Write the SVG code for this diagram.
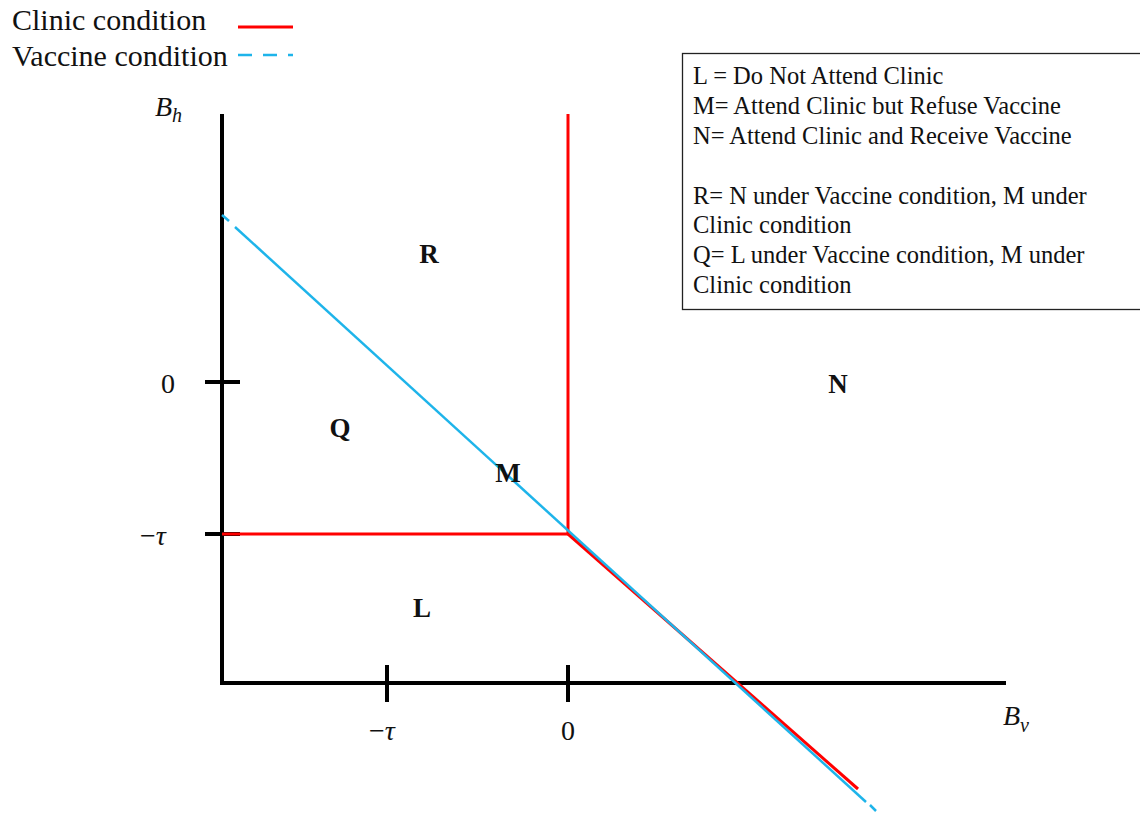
<svg xmlns="http://www.w3.org/2000/svg" width="1140" height="814" viewBox="0 0 1140 814">
<style>
text{font-family:"Liberation Serif","Times New Roman",serif;fill:#111}
.leg{font-size:30px}
.box{font-size:24.5px}
.reg{font-size:27px;font-weight:bold}
.tick{font-size:28px}
.math{font-size:28px;font-style:italic}
.axis{stroke:#000;stroke-width:4;fill:none}
.red{stroke:#ff0000;stroke-width:3;fill:none}
.blue{stroke:#1eb4ea;stroke-width:2.5;fill:none}
</style>
<rect width="1140" height="814" fill="#fff"/>
<g id="legend">
<text class="leg" x="12" y="30">Clinic condition</text>
<line class="red" x1="238" y1="27" x2="293" y2="27"/>
<text class="leg" x="12" y="66">Vaccine condition</text>
<line class="blue" x1="238" y1="55" x2="293" y2="55" stroke-dasharray="14 11"/>
</g>
<g id="axes">
<line class="axis" x1="222" y1="114" x2="222" y2="685"/>
<line class="axis" x1="220" y1="683" x2="1006" y2="683"/>
<line class="axis" x1="205" y1="382" x2="240" y2="382"/>
<line class="axis" x1="205" y1="534" x2="240" y2="534"/>
<line class="axis" x1="387" y1="665" x2="387" y2="702"/>
<line class="axis" x1="568" y1="665" x2="568" y2="702"/>
<text class="math" x="155" y="116">B<tspan font-size="20" dy="6">h</tspan></text>
<text class="math" x="1003" y="725">B<tspan font-size="20" dy="7">v</tspan></text>
<text class="tick" x="161" y="393">0</text>
<text class="tick" x="140" y="545">−<tspan font-style="italic">τ</tspan></text>
<text class="tick" x="369" y="740">−<tspan font-style="italic">τ</tspan></text>
<text class="tick" x="561" y="740">0</text>
</g>
<g id="connectors">
<polyline class="red" points="568,114 568,534 222,534"/>
<line class="red" x1="568" y1="534" x2="858" y2="789"/>
<line class="blue" x1="222" y1="215" x2="229" y2="221"/>
<line class="blue" x1="235" y1="227" x2="866" y2="802"/>
<line class="blue" x1="870" y1="805" x2="876" y2="811"/>
</g>
<g id="regions">
<text class="reg" x="429" y="263" text-anchor="middle">R</text>
<text class="reg" x="838" y="393" text-anchor="middle">N</text>
<text class="reg" x="340" y="437" text-anchor="middle">Q</text>
<text class="reg" x="508" y="482" text-anchor="middle">M</text>
<text class="reg" x="422" y="617" text-anchor="middle">L</text>
</g>
<g id="key">
<rect x="682.5" y="53.5" width="460" height="256" fill="#fff" stroke="#222" stroke-width="1.3"/>
<text class="box" x="693" y="84">L = Do Not Attend Clinic</text>
<text class="box" x="693" y="114">M= Attend Clinic but Refuse Vaccine</text>
<text class="box" x="693" y="144">N= Attend Clinic and Receive Vaccine</text>
<text class="box" x="693" y="204">R= N under Vaccine condition, M under</text>
<text class="box" x="693" y="233">Clinic condition</text>
<text class="box" x="693" y="263">Q= L under Vaccine condition, M under</text>
<text class="box" x="693" y="293">Clinic condition</text>
</g>
</svg>
